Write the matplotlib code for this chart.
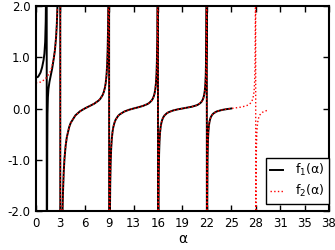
import matplotlib
matplotlib.use("Agg")
import matplotlib.pyplot as plt
import numpy as np

# f2(alpha) (one list, poles included)
alpha2_main = [0.0, 0.6, 1.2, 1.8, 2.3, 2.6, 2.8, 2.95, 3.05, 3.1, 3.13,
               3.153, 3.183, 3.233, 3.333, 3.483, 3.683, 3.983, 4.483, 5.083, 5.683,
               6.283, 6.883, 7.483, 8.083, 8.583, 8.883, 9.083, 9.233, 9.333, 9.383, 9.413,
               9.436, 9.466, 9.516, 9.616, 9.766, 9.966, 10.266, 10.766, 11.366, 11.966,
               12.566, 13.166, 13.766, 14.366, 14.866, 15.166, 15.366, 15.516, 15.616, 15.666, 15.696,
               15.72, 15.75, 15.8, 15.9, 16.05, 16.25, 16.55, 17.05, 17.65, 18.25,
               18.85, 19.45, 20.05, 20.65, 21.15, 21.45, 21.65, 21.8, 21.9, 21.95, 21.98,
               22.003, 22.033, 22.083, 22.183, 22.333, 22.533, 22.833, 23.333, 23.933, 24.533,
               25.133, 25.733, 26.333, 26.933, 27.433, 27.733, 27.933, 28.083, 28.183, 28.233, 28.263,
               28.286, 28.316, 28.366, 28.466, 28.616, 28.816, 29.116, 29.616, 29.816]
f2_main = [0.5, 0.516, 0.570, 0.700, 0.972, 1.385, 2.071, 3.53, 7.15, 15.5, 55.1,
           -54.7, -15.1, -6.74, -3.12, -1.665, -0.978, -0.561, -0.281, -0.1346, -0.0544,
           0.0, 0.0449, 0.0914, 0.1559, 0.2603, 0.4055, 0.638, 1.126, 2.336, 5.13, 18.3,
           -18.27, -5.08, -2.29, -1.082, -0.594, -0.361, -0.218, -0.117, -0.0602, -0.0258,
           0.0, 0.0235, 0.0497, 0.0877, 0.1503, 0.2375, 0.377, 0.670, 1.396, 3.07, 10.98,
           -10.97, -3.05, -1.380, -0.654, -0.361, -0.2217, -0.1350, -0.0739, -0.0388, -0.0169,
           0.0, 0.0159, 0.0341, 0.0610, 0.1057, 0.1679, 0.268, 0.477, 0.995, 2.19, 7.84,
           -7.84, -2.18, -0.987, -0.469, -0.2596, -0.1599, -0.0979, -0.0540, -0.0286, -0.0126,
           0.0, 0.0120, 0.0260, 0.0468, 0.0815, 0.1299, 0.2076, 0.370, 0.774, 1.704, 6.10,
           -6.09, -1.699, -0.769, -0.365, -0.2026, -0.1250, -0.0767, -0.0426, -0.0345]

# extra readings on the bends next to each pole
alpha2_extra = [2.0, 2.45, 2.7, 2.88, 3.0,
                3.283, 3.403, 3.583, 3.833, 4.283, 8.283, 8.733, 8.983, 9.163, 9.283,
                9.566, 9.686, 9.866, 10.116, 10.566, 14.566, 15.016, 15.266, 15.446, 15.566,
                15.85, 15.97, 16.15, 16.40, 16.85, 20.85, 21.30, 21.55, 21.73, 21.85,
                22.133, 22.253, 22.433, 22.683, 23.133, 27.133, 27.583, 27.833, 28.013, 28.133,
                28.416, 28.536, 28.716, 28.966, 29.416]
f2_extra = [0.779, 1.133, 1.650, 2.639, 4.70,
            -4.295, -2.233, -1.243, -0.724, -0.364, 0.188, 0.318, 0.496, 0.829, 1.519,
            -1.474, -0.785, -0.4515, -0.2744, -0.1474, 0.1069, 0.1849, 0.2918, 0.492, 0.906,
            -0.890, -0.476, -0.2759, -0.1693, -0.0924, 0.0747, 0.1303, 0.2067, 0.350, 0.645,
            -0.637, -0.3415, -0.1986, -0.1224, -0.0673, 0.0574, 0.1006, 0.1601, 0.2713, 0.501,
            -0.496, -0.2663, -0.1551, -0.0958, -0.0529]

pts = sorted(zip(alpha2_main + alpha2_extra, f2_main + f2_extra))
alpha2 = [p[0] for p in pts]
f2 = [p[1] for p in pts]

# f1(alpha): differs from f2 only near the origin (extra pole), ends at 8*pi
alpha1_head = [0.0, 0.3, 0.6, 0.8, 1.0, 1.1, 1.2, 1.27, 1.32, 1.36, 1.39,
               1.41, 1.44, 1.47, 1.5, 1.55, 1.62, 1.75, 1.9, 2.1]
f1_head = [0.60, 0.62, 0.70, 0.80, 0.95, 1.07, 1.30, 1.7, 2.4, 4.0, 10.0,
           -10.0, -2.5, -0.8, -0.1, 0.22, 0.38, 0.52, 0.63, 0.78]
i0, i1 = alpha2.index(2.3), alpha2.index(25.133) + 1
alpha1 = alpha1_head + alpha2[i0:i1]
f1 = f1_head + f2[i0:i1]

xticks = [k * np.pi for k in range(13)]
yticks = [-2.0, -1.0, 0.0, 1.0, 2.0]

fig = plt.figure(figsize=(3.35, 2.5), dpi=100)
ax = fig.add_axes([0.107, 0.156, 0.875, 0.82])

ax.plot(alpha1, f1, color='black', lw=1.4, label=r'f$_1$(α)')
ax.plot(alpha2, f2, color='red', lw=1.0, ls=':', label=r'f$_2$(α)')

ax.set_xlim(0, 12 * np.pi)
ax.set_ylim(-2, 2)
ax.set_xticks(xticks)
ax.set_xticklabels(['%.0f' % t for t in xticks])
ax.set_yticks(yticks)
ax.set_yticklabels(['%.1f' % t for t in yticks])
ax.tick_params(direction='in', top=True, right=True, length=4, width=1,
               labelsize=8.5, pad=4)
for s in ax.spines.values():
    s.set_linewidth(1.5)

ax.set_xlabel('α', fontsize=10, labelpad=2)

leg = ax.legend(loc='lower right', bbox_to_anchor=(1.0, 0.035), borderaxespad=0,
                fontsize=9, handlelength=1.0, handletextpad=1.0, borderpad=0.35,
                labelspacing=0.4, fancybox=False, framealpha=1, edgecolor='black')
leg.get_frame().set_linewidth(1.0)

fig.savefig('out.png', dpi=100)
